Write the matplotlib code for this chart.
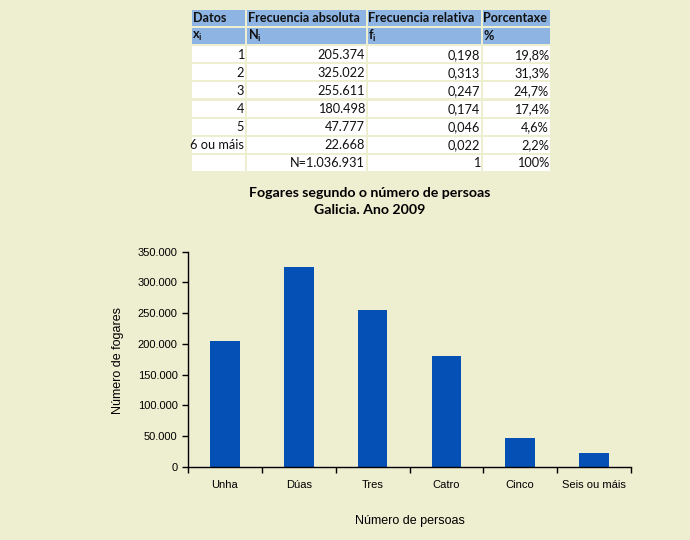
import matplotlib
matplotlib.use('Agg')
import matplotlib.pyplot as plt
from matplotlib.patches import Rectangle
from matplotlib.ticker import FuncFormatter, MultipleLocator

# data
categorias = ['Unha', 'Dúas', 'Tres', 'Catro', 'Cinco', 'Seis ou máis']
fogares = [205374, 325022, 255611, 180498, 47777, 22668]

cabeceira = ['Datos', 'Frecuencia absoluta', 'Frecuencia relativa', 'Porcentaxe']
simbolos = [r'$\mathbf{x_i}$', r'$\mathbf{N_i}$', r'$\mathbf{f_i}$', '%']
col_x = ['1', '2', '3', '4', '5', '6 ou máis', '']
col_n = ['205.374', '325.022', '255.611', '180.498', '47.777', '22.668', 'N=1.036.931']
col_f = ['0,198', '0,313', '0,247', '0,174', '0,046', '0,022', '1']
col_p = ['19,8%', '31,3%', '24,7%', '17,4%', '4,6%', '2,2%', '100%']

BG = '#EEEED1'
BLUE_HEAD = '#8DB4E2'
BAR = '#0450B5'

plt.rcParams['mathtext.fontset'] = 'custom'
plt.rcParams['mathtext.rm'] = 'Lato'
plt.rcParams['mathtext.bf'] = 'Lato:bold'
plt.rcParams['mathtext.it'] = 'Lato:bold'

W, H = 690, 540
fig = plt.figure(figsize=(W / 100, H / 100), dpi=100, facecolor=BG)

# --- table drawn in pixel coordinates ---
tax = fig.add_axes([0, 0, 1, 1])
tax.set_xlim(0, W)
tax.set_ylim(H, 0)
tax.axis('off')
tax.patch.set_alpha(0)

edges = [191, 246, 367, 482, 551]
top, row_h = 9, 18.1
rows = [cabeceira, simbolos] + [list(r) for r in zip(col_x, col_n, col_f, col_p)]
for i, row in enumerate(rows):
    y0 = top + i * row_h
    for j, txt in enumerate(row):
        x0, x1 = edges[j], edges[j + 1]
        color = BLUE_HEAD if i < 2 else 'white'
        tax.add_patch(Rectangle((x0 + 1, y0 + 1), x1 - x0 - 2, row_h - 2,
                                facecolor=color, edgecolor='none'))
        if i < 2:
            tax.text(x0 + 1.5, y0 + row_h / 2, txt, ha='left', va='center',
                     fontweight='bold', color='#111111', family='Lato', fontsize=9.1)
        else:
            tax.text(x1 - 2, y0 + row_h / 2 + 0.5, txt, ha='right', va='center',
                     color='#111111', family='Lato', fontsize=9.2)

# --- title ---
fig.text(370 / W, 1 - 193 / H, 'Fogares segundo o número de persoas',
         ha='center', va='center', family='Lato', fontweight='bold', fontsize=10.2)
fig.text(370 / W, 1 - 210 / H, 'Galicia. Ano 2009',
         ha='center', va='center', family='Lato', fontweight='bold', fontsize=10.2)

# --- bar chart ---
ax = fig.add_axes([188 / W, 1 - 467 / H, (631 - 188) / W, (467 - 251.5) / H])
ax.set_facecolor(BG)
pos = [k + 0.5 for k in range(len(categorias))]
ax.bar(pos, fogares, width=0.4, color=BAR)
ax.set_xlim(0, len(categorias))
ax.set_ylim(0, 350000)
ax.yaxis.set_major_locator(MultipleLocator(50000))
ax.yaxis.set_major_formatter(FuncFormatter(lambda v, p: f'{int(v):,}'.replace(',', '.')))
ax.set_xticks(range(len(categorias) + 1))
ax.set_xticklabels([])
ax.set_xticks(pos, minor=True)
ax.set_xticklabels(categorias, minor=True)
ax.tick_params(axis='x', which='minor', length=0, pad=9)
ax.tick_params(axis='both', which='major', length=4, width=1, direction='out')
for lbl in ax.get_xticklabels(minor=True) + ax.get_yticklabels():
    lbl.set_family('Liberation Sans')
    lbl.set_fontsize(8)
for s in ['top', 'right']:
    ax.spines[s].set_visible(False)
ax.spines['left'].set_linewidth(1)
ax.spines['bottom'].set_linewidth(1)

fig.text(118 / W, 1 - 360 / H, 'Número de fogares', rotation=90, ha='center',
         va='center', family='Liberation Sans', fontsize=9)
fig.text(410 / W, 1 - 521 / H, 'Número de persoas', ha='center', va='center',
         family='Liberation Sans', fontsize=9)

fig.savefig('out.png', dpi=100, facecolor=BG)
